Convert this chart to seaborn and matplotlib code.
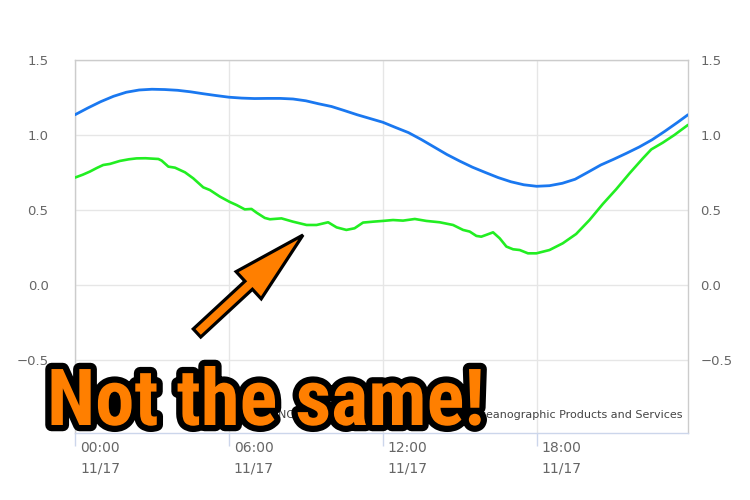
import matplotlib
matplotlib.use("Agg")
import matplotlib.pyplot as plt
import matplotlib.transforms as mtransforms
import matplotlib.patheffects as pe
from matplotlib.patches import FancyArrow
import seaborn as sns
import pandas as pd

# ---- data (hours since 00:00 11/17, water level) ----
pred_hours = [0, 0.5, 1.0, 1.5, 2.0, 2.5, 3.0, 3.5, 4.0, 4.5, 5.0, 5.5, 6.0, 6.5, 7.0, 7.5,
              8.0, 8.5, 9.0, 9.5, 10.0, 10.5, 11.0, 11.5, 12.0, 12.5, 13.0, 13.5, 14.0, 14.5,
              15.0, 15.5, 16.0, 16.5, 17.0, 17.5, 18.0, 18.5, 19.0, 19.5, 20.0, 20.5, 21.0,
              21.5, 22.0, 22.5, 23.0, 23.5, 23.9]
pred_values = [1.135, 1.18, 1.222, 1.258, 1.285, 1.30, 1.305, 1.303, 1.298, 1.288, 1.275,
               1.263, 1.252, 1.246, 1.243, 1.244, 1.244, 1.240, 1.228, 1.208, 1.19, 1.163,
               1.135, 1.11, 1.085, 1.05, 1.016, 0.97, 0.92, 0.87, 0.826, 0.785, 0.75, 0.716,
               0.688, 0.668, 0.658, 0.662, 0.678, 0.705, 0.752, 0.800, 0.838, 0.878, 0.92,
               0.968, 1.025, 1.085, 1.135]

obs_hours = [0.0, 0.3, 0.58, 0.85, 1.1, 1.36, 1.75, 2.1, 2.4, 2.75, 3.05, 3.25, 3.38, 3.64,
             3.9, 4.29, 4.61, 5.0, 5.26, 5.65, 6.04, 6.3, 6.62, 6.88, 7.08, 7.4, 7.6, 8.05,
             8.5, 9.03, 9.42, 9.87, 10.2, 10.58, 10.9, 11.23, 11.62, 12.0, 12.4, 12.79,
             13.25, 13.7, 14.22, 14.74, 15.13, 15.39, 15.65, 15.84, 16.05, 16.3, 16.56,
             16.82, 17.08, 17.34, 17.66, 17.99, 18.5, 19.02, 19.54, 20.06, 20.58, 21.1,
             21.62, 22.14, 22.47, 22.92, 23.37, 23.63, 23.9]
obs_values = [0.716, 0.735, 0.756, 0.78, 0.80, 0.807, 0.827, 0.838, 0.844, 0.845, 0.842,
              0.840, 0.829, 0.789, 0.782, 0.751, 0.711, 0.651, 0.633, 0.589, 0.553, 0.533,
              0.504, 0.507, 0.482, 0.447, 0.438, 0.444, 0.422, 0.40, 0.40, 0.418, 0.384,
              0.367, 0.378, 0.416, 0.422, 0.427, 0.433, 0.429, 0.44, 0.427, 0.418, 0.40,
              0.367, 0.356, 0.327, 0.322, 0.335, 0.351, 0.311, 0.256, 0.238, 0.233, 0.211,
              0.211, 0.233, 0.278, 0.34, 0.433, 0.54, 0.638, 0.744, 0.844, 0.904, 0.949,
              1.0, 1.033, 1.067]

x_ticks = [0, 6, 12, 18]
x_tick_labels = ["00:00\n11/17", "06:00\n11/17", "12:00\n11/17", "18:00\n11/17"]
y_ticks = [-0.5, 0.0, 0.5, 1.0, 1.5]
y_tick_labels = ["\u22120.5", "0.0", "0.5", "1.0", "1.5"]

credit_text = "NOAA/NOS/Center for Operational Oceanographic Products and Services"
overlay_text = "Not the same!"

# ---- figure ----
sns.set_theme(style="white")
plt.rcParams["font.family"] = ["DejaVu Sans"]

fig = plt.figure(figsize=(7.5, 5), dpi=100)
ax = fig.add_axes([0.1, 0.134, 0.8173, 0.746])

pred_df = pd.DataFrame({"hour": pred_hours, "level": pred_values})
obs_df = pd.DataFrame({"hour": obs_hours, "level": obs_values})

sns.lineplot(data=pred_df, x="hour", y="level", ax=ax, color="#1a78f0", linewidth=2.0, zorder=3)
sns.lineplot(data=obs_df, x="hour", y="level", ax=ax, color="#22ee22", linewidth=1.9, zorder=4)

ax.set_xlim(0, 23.9)
ax.set_ylim(-0.987, 1.5)
ax.set_xlabel("")
ax.set_ylabel("")

ax.set_xticks(x_ticks)
ax.set_xticklabels(x_tick_labels)
ax.set_yticks(y_ticks)
ax.set_yticklabels(y_tick_labels)

ax.grid(True, color="#e6e6e6", linewidth=1.0)
ax.set_axisbelow(True)

for side in ["top", "left", "right"]:
    ax.spines[side].set_color("#cccccc")
    ax.spines[side].set_linewidth(1.0)
ax.spines["bottom"].set_color("#ccd6eb")
ax.spines["bottom"].set_linewidth(1.0)

ax.tick_params(axis="x", direction="out", length=9, width=1, color="#ccd6eb",
               labelsize=10, labelcolor="#666666", pad=-3, bottom=True)
ax.tick_params(axis="y", length=0, labelsize=9.5, labelcolor="#666666", pad=19)

offset = mtransforms.ScaledTranslation(0.05, 0, fig.dpi_scale_trans)
for lbl in ax.get_xticklabels():
    lbl.set_horizontalalignment("left")
    lbl.set_linespacing(1.55)
    lbl.set_transform(lbl.get_transform() + offset)

# right-side labels
ax2 = ax.twinx()
ax2.set_ylim(ax.get_ylim())
ax2.set_yticks(y_ticks)
ax2.set_yticklabels(y_tick_labels)
ax2.tick_params(axis="y", length=0, labelsize=9.5, labelcolor="#666666", pad=9)
for s in ax2.spines.values():
    s.set_visible(False)
ax2.grid(False)

# credit
fig.text(682 / 750, 1 - 418 / 500, credit_text, ha="right", va="baseline",
         fontsize=8, color="#444444", zorder=5)

# arrow (display pixels)
arrow = FancyArrow(197, 167, 106, 98, width=11, head_width=37, head_length=74,
                   length_includes_head=True, facecolor="#ff7f00", edgecolor="black",
                   linewidth=2.3, transform=mtransforms.IdentityTransform(), zorder=10)
fig.patches.append(arrow)

# overlay text
big = fig.text(47 / 750, 1 - 425 / 500, overlay_text, ha="left", va="baseline",
               fontsize=62, fontweight=900, fontstretch="condensed",
               color="#ff7f00",
               family=["Roboto Condensed", "Open Sans Condensed", "Liberation Sans Narrow",
                       "DejaVu Sans"], zorder=20,
               path_effects=[pe.withStroke(linewidth=9, foreground="black")])

# fit the overlay text into the reference's width
renderer = fig.canvas.get_renderer()
w = big.get_window_extent(renderer).width
target_w = 438.0
if w > target_w:
    big.set_fontsize(62 * target_w / w)

fig.savefig("out.png", dpi=100)
